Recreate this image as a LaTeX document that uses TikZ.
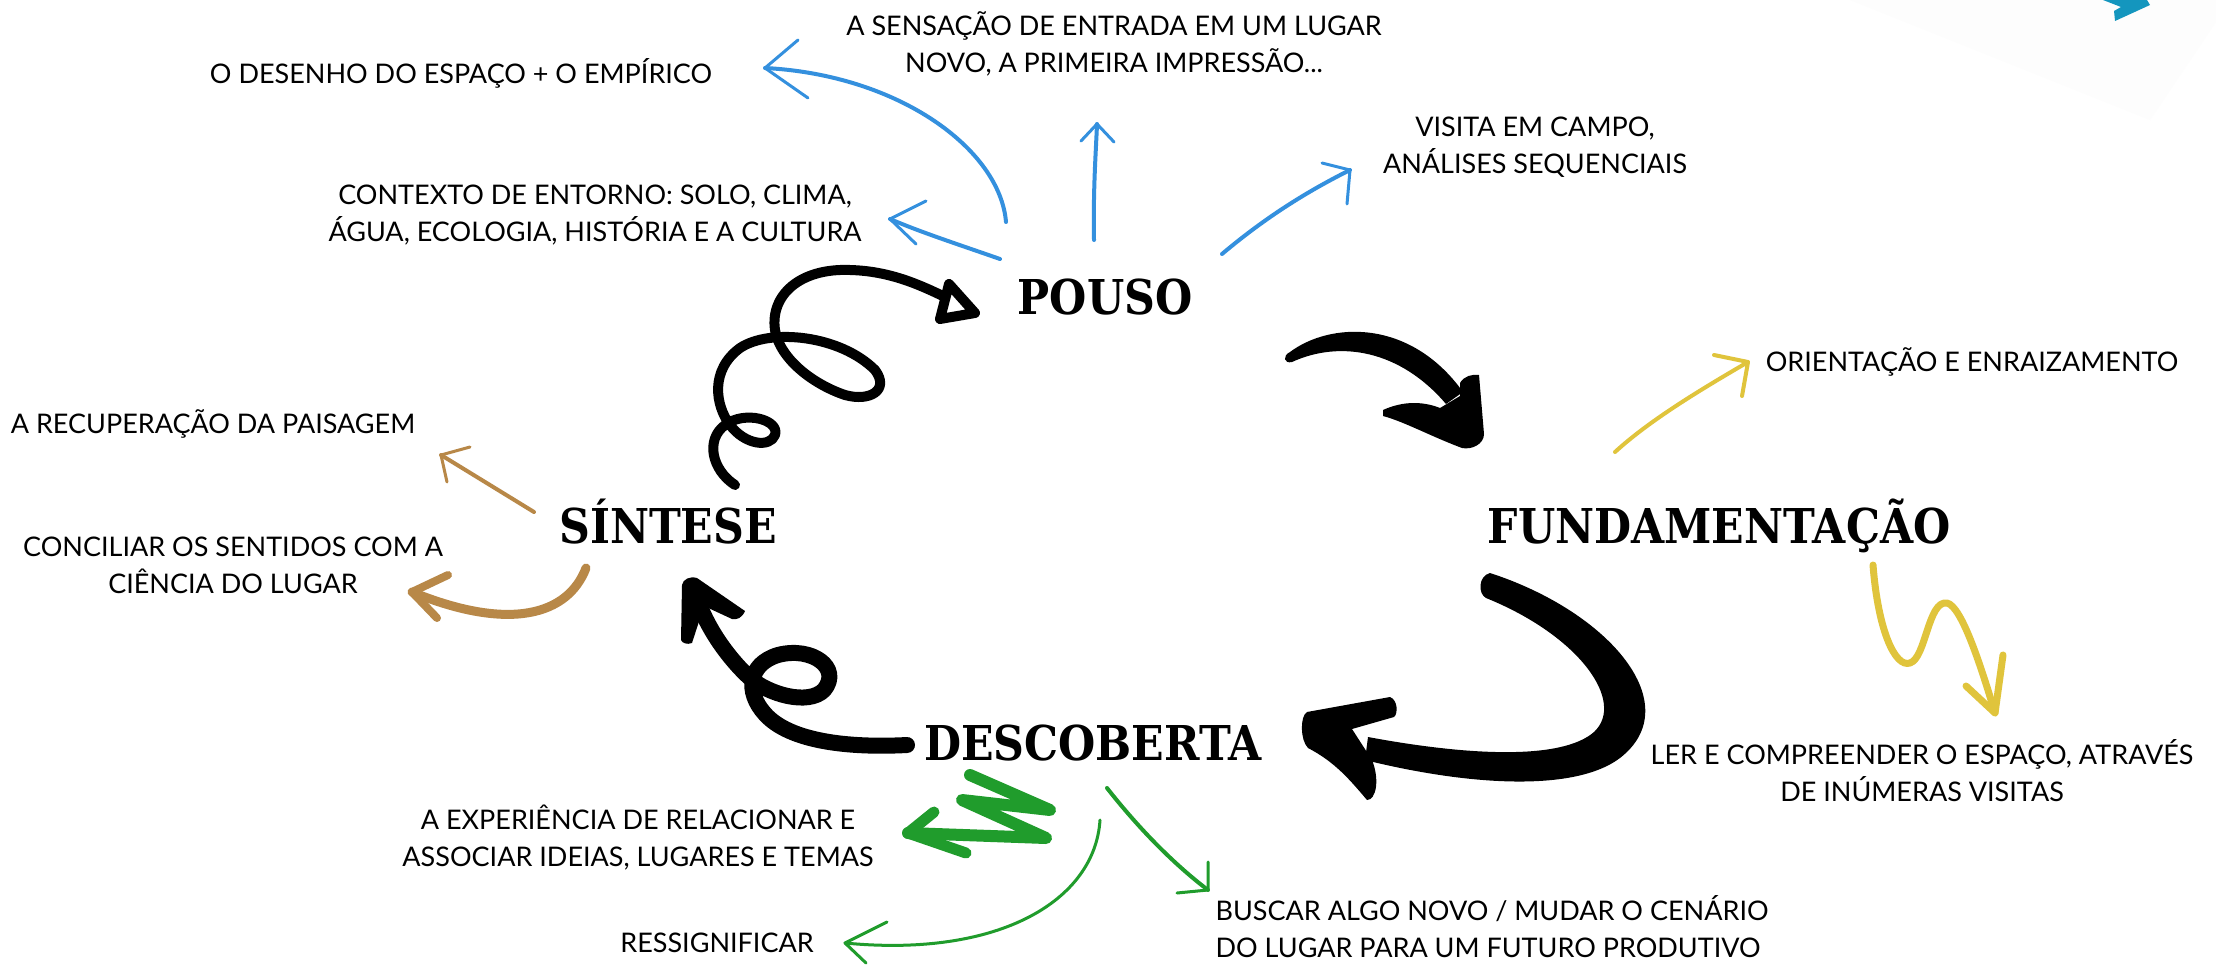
\documentclass[tikz,border=0pt]{standalone}
\usepackage{fontspec}
\usetikzlibrary{arrows.meta}
\newfontfamily\labfont{Lato}
\newfontfamily\titfont{DejaVu Serif}[FakeStretch=0.89]
\definecolor{cblue}{RGB}{52,144,222}
\definecolor{cyel}{RGB}{224,196,60}
\definecolor{cbrown}{RGB}{184,136,72}
\definecolor{cgreen}{RGB}{32,156,44}
\definecolor{cteal}{RGB}{20,150,190}
\tikzset{
  lab/.style={font=\labfont\fontsize{27}{37}\selectfont, align=center, inner sep=0pt},
  tit/.style={font=\titfont\bfseries\fontsize{48}{50}\selectfont, inner sep=0pt, anchor=base},
  cstroke/.style={draw=#1, line width=4pt, line cap=round, line join=round},
  blackstroke/.style={draw=black, line width=#1, line cap=round, line join=round},
}
\begin{document}
\begin{tikzpicture}[x=1pt,y=-1pt]
\useasboundingbox (0,0) rectangle (2216,966);
\fill[white] (0,0) rectangle (2216,966);
% faint corner band and teal fragment
\fill[gray!1.5] (1850,0) -- (2150,120) -- (2216,22) -- (2216,0) -- cycle;
\fill[cteal] (2103,0) -- (2121,7) -- (2114,11) -- (2115,21) -- (2150,5) -- (2147,0) -- cycle;

% titles
\node[tit] (pouso) at (1105,314) {POUSO};
\node[tit] (fund) at (1719,543) {FUNDAMENTAÇÃO};
\node[tit] (sint) at (668,543) {SÍNTESE};
\node[tit] (desc) at (1093,760) {DESCOBERTA};

% labels
\node[lab] (desenho) at (461,73) {O DESENHO DO ESPAÇO + O EMPÍRICO};
\node[lab] (sensacao) at (1114,44) {A SENSAÇÃO DE ENTRADA EM UM LUGAR\\NOVO, A PRIMEIRA IMPRESSÃO...};
\node[lab] (contexto) at (595,215) {CONTEXTO DE ENTORNO: SOLO, CLIMA,\\ÁGUA, ECOLOGIA, HISTÓRIA E A CULTURA};
\node[lab] (visita) at (1535,147) {VISITA EM CAMPO,\\ANÁLISES SEQUENCIAIS};
\node[lab] (orient) at (1972,362) {ORIENTAÇÃO E ENRAIZAMENTO};
\node[lab] (recup) at (213,424) {A RECUPERAÇÃO DA PAISAGEM};
\node[lab] (concil) at (233,565) {CONCILIAR OS SENTIDOS COM A\\CIÊNCIA DO LUGAR};
\node[lab] (ler) at (1922,771) {LER E COMPREENDER O ESPAÇO, ATRAVÉS\\DE INÚMERAS VISITAS};
\node[lab] (exper) at (638,838) {A EXPERIÊNCIA DE RELACIONAR E\\ASSOCIAR IDEIAS, LUGARES E TEMAS};
\node[lab] (ressig) at (717,943) {RESSIGNIFICAR};
\node[lab, align=left] (buscar) at (1492,927) {BUSCAR ALGO NOVO / MUDAR O CENÁRIO\\DO LUGAR PARA UM FUTURO PRODUTIVO};

% connector coordinates
\coordinate (b1s) at (1006,222); \coordinate (b1e) at (765,68);
\coordinate (b2s) at (1000,259); \coordinate (b2e) at (890,219);
\coordinate (b3s) at (1094,240); \coordinate (b3e) at (1097,124);
\coordinate (b4s) at (1222,254); \coordinate (b4e) at (1350,170);
\coordinate (y1s) at (1615,452); \coordinate (y1e) at (1748,362);
\coordinate (y2s) at (1873,565); \coordinate (y2e) at (1995,713);
\coordinate (r1s) at (534,512);  \coordinate (r1e) at (441,455);
\coordinate (r2s) at (586,568);  \coordinate (r2e) at (412,592);
\coordinate (g1s) at (970,775);  \coordinate (g1e) at (908,833);
\coordinate (g2s) at (1100,820); \coordinate (g2e) at (845,943);
\coordinate (g3s) at (1107,788); \coordinate (g3e) at (1208,890);

% blue arrows (POUSO)
\draw[cstroke=cblue] (b1s) .. controls (1000,150) and (900,75) .. (b1e);
\draw[cstroke=cblue, line width=3pt] (798,40) -- (b1e) -- (808,98);
\draw[cstroke=cblue] (b2s) .. controls (960,245) and (920,232) .. (b2e);
\draw[cstroke=cblue, line width=3pt] (926,201) -- (b2e) -- (916,244);
\draw[cstroke=cblue] (b3s) .. controls (1093,190) and (1096,150) .. (b3e);
\draw[cstroke=cblue, line width=3pt] (1081,141) -- (b3e) -- (1114,142);
\draw[cstroke=cblue] (b4s) .. controls (1260,222) and (1300,195) .. (b4e);
\draw[cstroke=cblue, line width=3pt] (1322,163) -- (b4e) -- (1347,204);

% yellow arrows (FUNDAMENTACAO)
\draw[cstroke=cyel] (y1s) .. controls (1650,420) and (1700,390) .. (y1e);
\draw[cstroke=cyel] (1714,355) -- (y1e) -- (1742,396);
\draw[cstroke=cyel, line width=7pt] (y2s) .. controls (1878,630) and (1895,668) .. (1910,663)
   .. controls (1926,658) and (1928,600) .. (1947,603) .. controls (1962,606) and (1982,670) .. (y2e);
\draw[cstroke=cyel, line width=7pt] (1966,686) -- (y2e) -- (2003,655);

% brown arrows (SINTESE)
\draw[cstroke=cbrown] (r1s) -- (r1e);
\draw[cstroke=cbrown, line width=3pt] (470,447) -- (r1e) -- (447,482);
\draw[cstroke=cbrown, line width=9pt] (r2s) .. controls (568,615) and (510,632) .. (r2e);
\draw[cstroke=cbrown, line width=8pt] (448,575) -- (r2e) -- (437,618);

% green arrows (DESCOBERTA)
\draw[cstroke=cgreen, line width=12pt] (g1s) -- (1050,810) -- (962,800) -- (1046,838) -- (g1e);
\draw[cstroke=cgreen, line width=11pt] (934,812) -- (g1e) -- (966,853);
\draw[cstroke=cgreen, line width=3pt] (g2s) .. controls (1095,900) and (1000,958) .. (g2e);
\draw[cstroke=cgreen, line width=3pt] (887,922) -- (g2e) -- (866,963);
\draw[cstroke=cgreen] (g3s) .. controls (1140,830) and (1175,865) .. (g3e);
\draw[cstroke=cgreen, line width=3pt] (1208,862) -- (g3e) -- (1177,893);

% black arrow: SINTESE -> POUSO (curly)
\coordinate (c1s) at (735,485);
\coordinate (c1e) at (945,297);
\draw[blackstroke=10pt] (c1s) .. controls (712,470) and (705,440) .. (725,425)
  .. controls (745,410) and (780,420) .. (775,435)
  .. controls (770,448) and (745,445) .. (730,425)
  .. controls (715,405) and (710,370) .. (740,348)
  .. controls (770,328) and (840,335) .. (875,370)
  .. controls (890,390) and (870,402) .. (845,395)
  .. controls (815,385) and (780,360) .. (775,330)
  .. controls (770,295) and (800,268) .. (850,270)
  .. controls (890,271) and (920,285) .. (c1e);
\draw[blackstroke=10pt] (949,284) -- (975,313) -- (940,319) -- cycle;

% black arrow: POUSO -> FUNDAMENTACAO
\fill (1290,352) .. controls (1330,322) and (1410,318) .. (1463,392)
  -- (1446,404) .. controls (1400,350) and (1340,340) .. (1292,362)
  .. controls (1284,364) and (1282,356) .. (1290,352) -- cycle;
\fill (1383,410) .. controls (1405,400) and (1425,402) .. (1440,408)
  -- (1460,396) -- (1460,383) .. controls (1464,376) and (1472,374) .. (1479,375)
  -- (1484,434) .. controls (1484,444) and (1472,450) .. (1462,448)
  .. controls (1430,436) and (1405,422) .. (1383,416) -- cycle;

% black arrow: FUNDAMENTACAO -> DESCOBERTA
\fill (1490,573) .. controls (1610,612) and (1688,705) .. (1620,758)
  .. controls (1575,792) and (1470,786) .. (1365,760)
  -- (1368,737) .. controls (1470,756) and (1562,760) .. (1594,732)
  .. controls (1626,702) and (1580,636) .. (1486,598)
  .. controls (1478,594) and (1478,576) .. (1490,573) -- cycle;
\fill (1307,712) -- (1390,697) .. controls (1398,700) and (1398,714) .. (1394,717)
  -- (1352,729) -- (1372,760) .. controls (1380,780) and (1376,800) .. (1367,800)
  .. controls (1350,780) and (1335,762) .. (1308,748)
  .. controls (1300,740) and (1300,716) .. (1307,712) -- cycle;

% black arrow: DESCOBERTA -> SINTESE
\draw[blackstroke=16pt] (907,745) .. controls (850,748) and (790,742) .. (765,714)
  .. controls (745,692) and (748,664) .. (778,655)
  .. controls (812,646) and (842,668) .. (824,690)
  .. controls (808,706) and (768,694) .. (750,678)
  .. controls (727,657) and (706,626) .. (697,598);
\fill (682,585) .. controls (683,579) and (690,576) .. (697,578)
  -- (745,611) .. controls (742,618) and (737,620) .. (732,619)
  -- (704,606) -- (692,643) .. controls (687,645) and (682,643) .. (681,640) -- cycle;
\end{tikzpicture}
\end{document}
